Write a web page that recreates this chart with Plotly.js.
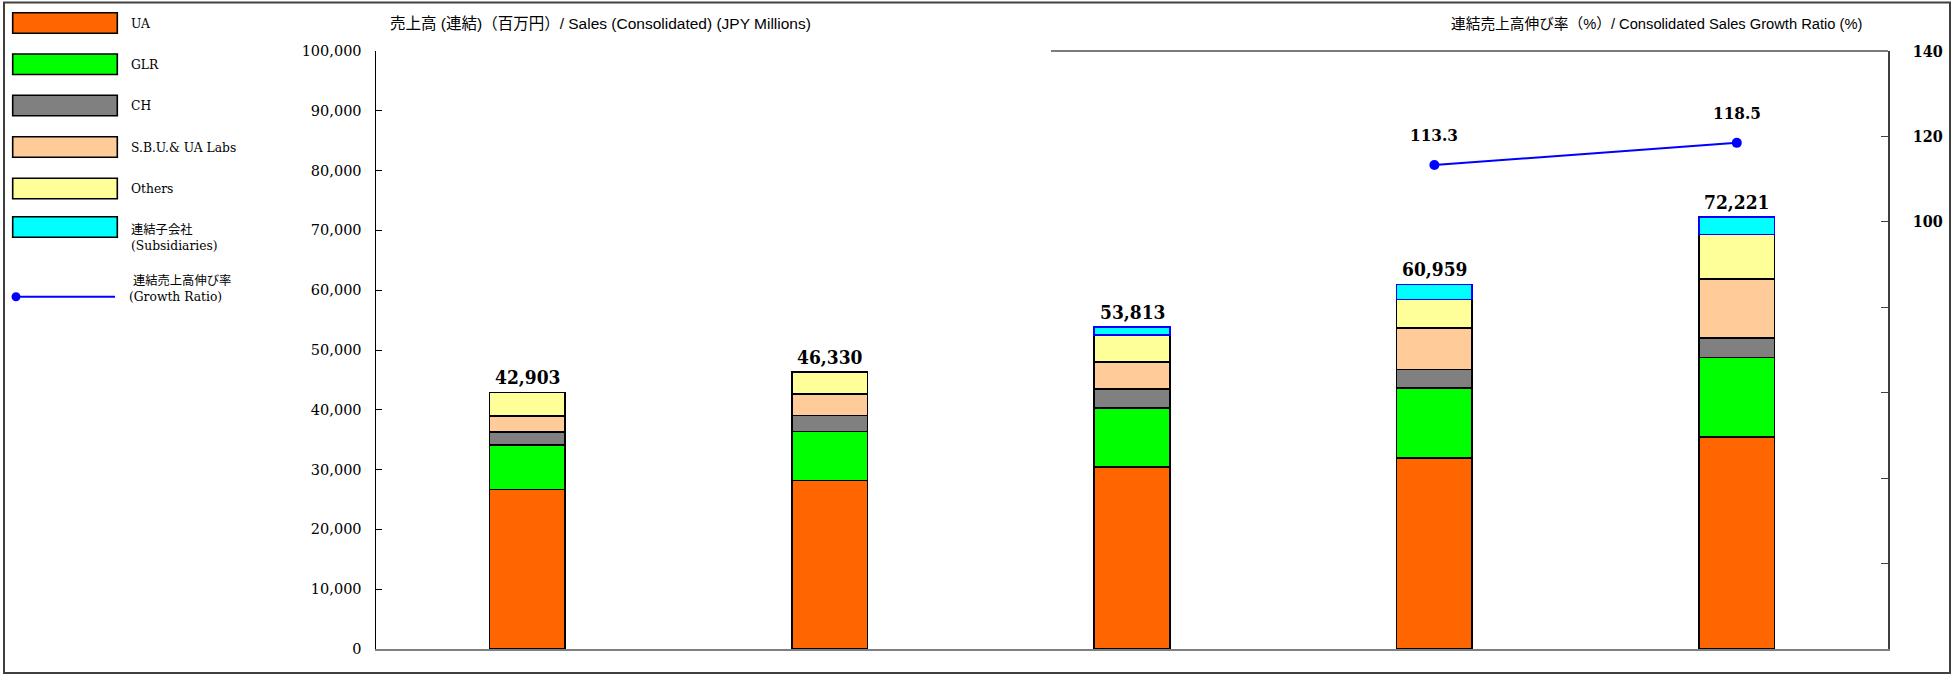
<!DOCTYPE html>
<html><head><meta charset="utf-8">
<script src="https://cdn.plot.ly/plotly-3.0.1.min.js"></script>
<style>html,body{margin:0;padding:0;background:#fff;}#chart{width:1955px;height:674px;}</style>
</head><body><div id="chart"></div>
<script>
// ---- data ----
const categories = ['FY1', 'FY2', 'FY3', 'FY4', 'FY5'];
const uaSales = [26670, 28200, 30400, 31960, 35460];
const glrSales = [7420, 8150, 9920, 11710, 13260];
const chSales = [2220, 2700, 3130, 3070, 3290];
const sbuSales = [2680, 3550, 4520, 6910, 9910];
const othersSales = [3913, 3730, 4580, 4800, 7420];
const subsSales = [null, null, 1263, 2509, 2881];
const totalSales = [42903, 46330, 53813, 60959, 72221];
const growthRatio = [null, null, null, 113.3, 118.5];
const leftTickVals = [0, 10000, 20000, 30000, 40000, 50000, 60000, 70000, 80000, 90000, 100000];
const rightTickVals = [0, 20, 40, 60, 80, 100, 120, 140];
const rightTickText = ['', '', '', '', '', '100', '120', '140'];
const seriesNames = ['UA', 'GLR', 'CH', 'S.B.U.& UA Labs', 'Others', '連結子会社<br>(Subsidiaries)'];
const growthName = ' 連結売上高伸び率<br>(Growth Ratio)';
const leftTitle = '売上高 (連結)（百万円）/ Sales (Consolidated) (JPY Millions)';
const rightTitle = '連結売上高伸び率（%）/ Consolidated Sales Growth Ratio (%)';

// ---- styles ----
const seriesValues = [uaSales, glrSales, chSales, sbuSales, othersSales, subsSales];
const seriesColors = ['#FF6600', '#00FF00', '#808080', '#FFCC99', '#FFFF99', '#00FFFF'];
const seriesLines = ['#000000', '#000000', '#000000', '#000000', '#000000', '#0000FF'];
const SERIF = '"DejaVu Serif", "Noto Sans CJK JP", serif';
const SERIFC = '"DejaVu Serif Condensed", "DejaVu Serif", serif';
const SANS = '"Liberation Sans", Arial, "Noto Sans CJK JP", sans-serif';

const L = 376, R = 1888, T = 51, B = 649;
const W = R - L, H = B - T;
const px = v => (v - L) / W;
const py = v => (B - v) / H;

const traces = seriesValues.map((vals, i) => ({
  type: 'bar', x: categories, y: vals, name: seriesNames[i],
  width: 0.25,
  marker: {color: seriesColors[i], line: {color: seriesLines[i], width: 1.6}},
  showlegend: false, hoverinfo: 'skip'
}));
traces.push({
  type: 'scatter', mode: 'lines+markers', x: categories, y: growthRatio, yaxis: 'y2',
  name: growthName, line: {color: '#0000FF', width: 2},
  marker: {color: '#0000FF', size: 10}, showlegend: false, hoverinfo: 'skip'
});

const shapes = [];
const annotations = [];
// outer frame
shapes.push({type: 'rect', xref: 'paper', yref: 'paper', x0: px(4), x1: px(1950), y0: py(673), y1: py(2.5),
  line: {color: '#404040', width: 2}, fillcolor: 'rgba(0,0,0,0)'});
// partial top frame line
shapes.push({type: 'line', xref: 'paper', yref: 'paper', x0: px(1051), x1: 1, y0: 1, y1: 1,
  line: {color: '#505050', width: 1.5}});

// legend
const rowTops = [12.7, 54, 95.3, 136.7, 178.3, 216.7];
const rowLabelY = [24, 65, 106, 147.7, 189, 237.5];
seriesNames.forEach((nm, i) => {
  shapes.push({type: 'rect', xref: 'paper', yref: 'paper', x0: px(12.7), x1: px(117.3),
    y0: py(rowTops[i] + 20.5), y1: py(rowTops[i]),
    fillcolor: seriesColors[i], line: {color: '#000000', width: 1.6}});
  annotations.push({xref: 'paper', yref: 'paper', x: px(129), y: py(rowLabelY[i]), xanchor: 'left', yanchor: 'middle',
    text: nm, showarrow: false, align: 'left', font: {family: SERIF, size: 12.3, color: '#000'}});
});
shapes.push({type: 'line', xref: 'paper', yref: 'paper', x0: px(14), x1: px(115), y0: py(296.7), y1: py(296.7),
  line: {color: '#0000FF', width: 2}});
shapes.push({type: 'circle', xref: 'paper', yref: 'paper', x0: px(11.5), x1: px(20.5), y0: py(301.2), y1: py(292.2),
  fillcolor: '#0000FF', line: {color: '#0000FF', width: 0}});
annotations.push({xref: 'paper', yref: 'paper', x: px(127), y: py(288.5), xanchor: 'left', yanchor: 'middle',
  text: growthName, showarrow: false, align: 'left', font: {family: SERIF, size: 12.3, color: '#000'}});

// titles
annotations.push({xref: 'paper', yref: 'paper', x: px(600), y: py(24), xanchor: 'center', yanchor: 'middle',
  text: leftTitle, showarrow: false, font: {family: SANS, size: 15.5, color: '#000'}});
annotations.push({xref: 'paper', yref: 'paper', x: px(1656), y: py(24), xanchor: 'center', yanchor: 'middle',
  text: rightTitle, showarrow: false, font: {family: SANS, size: 14.7, color: '#000'}});

// totals
totalSales.forEach((t, i) => {
  annotations.push({x: categories[i], y: t, xref: 'x', yref: 'y', yanchor: 'bottom', yshift: 2,
    text: t.toLocaleString('en-US'), showarrow: false,
    font: {family: SERIFC, size: 19, color: '#000', weight: 'bold'}});
});
// growth labels
growthRatio.forEach((g, i) => {
  if (g === null) return;
  annotations.push({x: categories[i], y: g, xref: 'x', yref: 'y2', yanchor: 'bottom', yshift: 18,
    text: g.toFixed(1), showarrow: false,
    font: {family: SERIFC, size: 17, color: '#000', weight: 'bold'}});
});

const layout = {
  width: 1955, height: 674,
  margin: {l: L, r: 1955 - R, t: T, b: 674 - B, autoexpand: false},
  paper_bgcolor: '#ffffff', plot_bgcolor: '#ffffff',
  barmode: 'stack', showlegend: false,
  xaxis: {type: 'category', categoryarray: categories, range: [-0.5, 4.5], showline: true,
    linecolor: '#808080', linewidth: 1.5, showticklabels: false, ticks: '', showgrid: false, zeroline: false},
  yaxis: {range: [0, 100000], tickvals: leftTickVals, tickformat: ',', ticks: 'inside', ticklen: 6,
    tickcolor: '#000', tickwidth: 1, showline: true, linecolor: '#000', linewidth: 1.5,
    showgrid: false, zeroline: false, ticklabelstandoff: 10,
    tickfont: {family: SERIF, size: 14.5, color: '#000'}},
  yaxis2: {overlaying: 'y', side: 'right', range: [0, 140], tickvals: rightTickVals, ticktext: rightTickText,
    ticks: 'inside', ticklen: 7, tickcolor: '#404040', tickwidth: 1, showline: true, linecolor: '#404040',
    linewidth: 1.5, showgrid: false, zeroline: false, ticklabelstandoff: 20,
    tickfont: {family: SERIFC, size: 16, color: '#000', weight: 'bold'}},
  shapes: shapes, annotations: annotations
};
Plotly.newPlot('chart', traces, layout, {staticPlot: true, displayModeBar: false});
</script>
</body></html>
